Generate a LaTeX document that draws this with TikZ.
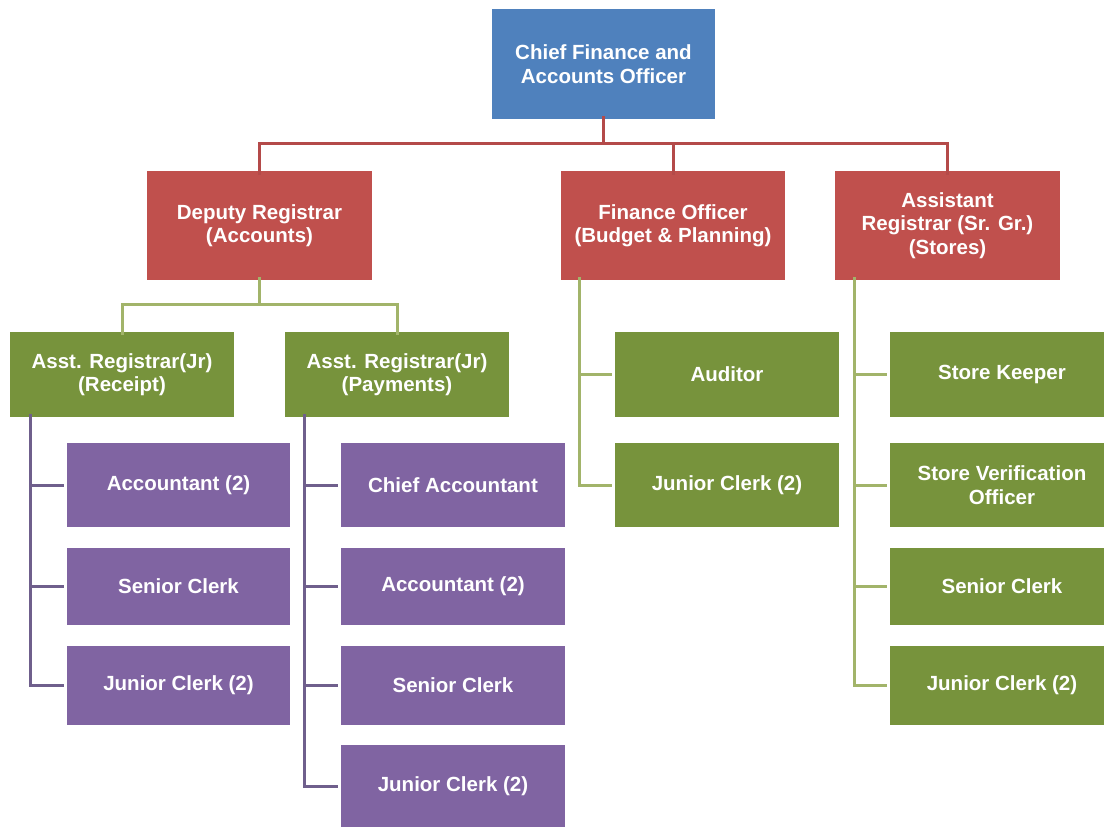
\documentclass[tikz,border=0pt]{standalone}
\usepackage{fontspec}
\setmainfont{Liberation Sans}
\definecolor{cblue}{HTML}{4F81BD}
\definecolor{cred}{HTML}{C0504D}
\definecolor{cgreen}{HTML}{77933C}
\definecolor{cpurple}{HTML}{8064A2}
\definecolor{lred}{HTML}{B44A49}
\definecolor{lgreen}{HTML}{A2B46A}
\definecolor{lpurple}{HTML}{6F5F8C}
\begin{document}
\begin{tikzpicture}[x=1pt,y=-1pt,
  box/.style={rectangle, inner sep=2pt, text=white, align=center,
    font=\fontsize{20.5}{23.5}\selectfont\bfseries},
  wbox/.style={box, minimum width=224pt},
  redline/.style={draw=lred, line width=3pt},
  greenline/.style={draw=lgreen, line width=3pt},
  purpleline/.style={draw=lpurple, line width=3pt}]
\useasboundingbox (0,0) rectangle (1104,829);
\fill[white] (0,0) rectangle (1104,829);
% top
\node[box, fill=cblue, minimum width=223pt, minimum height=110pt] (top) at (603.5,64) {Chief Finance and\\Accounts Officer};
% red row
\node[box, fill=cred, minimum width=225pt, minimum height=109pt] (dr) at (259.5,225.5) {Deputy Registrar\\(Accounts)};
\node[box, fill=cred, minimum width=224pt, minimum height=109pt] (fo) at (673,225.5) {Finance Officer\\(Budget \& Planning)};
\node[box, fill=cred, minimum width=225pt, minimum height=109pt] (ar) at (947.5,225.5) {Assistant\\Registrar (Sr. Gr.)\\(Stores)};
% green row
\node[wbox, fill=cgreen, minimum height=85pt] (rec) at (122,374.5) {Asst. Registrar(Jr)\\(Receipt)};
\node[wbox, fill=cgreen, minimum height=85pt] (pay) at (397,374.5) {Asst. Registrar(Jr)\\(Payments)};
\node[wbox, fill=cgreen, minimum height=85pt] (aud) at (727,374.5) {Auditor};
\node[wbox, fill=cgreen, minimum height=84pt] (fjc) at (727,485) {Junior Clerk (2)};
\node[wbox, fill=cgreen, minimum height=85pt] (sk) at (1002,374.5) {Store Keeper};
\node[wbox, fill=cgreen, minimum height=84pt] (svo) at (1002,485) {Store Verification\\Officer};
\node[wbox, fill=cgreen, minimum height=77pt] (ssc) at (1002,586.5) {Senior Clerk};
\node[wbox, fill=cgreen, minimum height=79pt] (sjc) at (1002,685.5) {Junior Clerk (2)};
% purple under receipt
\node[wbox, fill=cpurple, minimum width=223pt, minimum height=84pt] (racc) at (178.5,485) {Accountant (2)};
\node[wbox, fill=cpurple, minimum width=223pt, minimum height=77pt] (rsc) at (178.5,586.5) {Senior Clerk};
\node[wbox, fill=cpurple, minimum width=223pt, minimum height=79pt] (rjc) at (178.5,685.5) {Junior Clerk (2)};
% purple under payments
\node[wbox, fill=cpurple, minimum width=224pt, minimum height=84pt] (pca) at (453,485) {Chief Accountant};
\node[wbox, fill=cpurple, minimum width=224pt, minimum height=77pt] (pacc) at (453,586.5) {Accountant (2)};
\node[wbox, fill=cpurple, minimum width=224pt, minimum height=79pt] (psc) at (453,685.5) {Senior Clerk};
\node[wbox, fill=cpurple, minimum width=224pt, minimum height=82pt] (pjc) at (453,786) {Junior Clerk (2)};
% red connectors
\coordinate (rbus) at (0,144);
\draw[redline] ([yshift=3pt]top.south) -- (top.south |- rbus);
\draw[redline] ([yshift=-4pt]dr.north) -- (dr.north |- rbus) -| ([yshift=-4pt]ar.north);
\draw[redline] ([yshift=-4pt]fo.north) -- (fo.north |- rbus);
% green connectors
\coordinate (gbus) at (0,305);
\draw[greenline] ([yshift=3pt]dr.south) -- (dr.south |- gbus);
\draw[greenline] ([yshift=-3pt]rec.north) -- (rec.north |- gbus) -| ([yshift=-3pt]pay.north);
\coordinate (fv) at ([xshift=19pt,yshift=3pt]fo.south west);
\draw[greenline] (fv) |- ([xshift=-3pt]fjc.west);
\draw[greenline] (fv |- aud.west) -- ([xshift=-3pt]aud.west);
\coordinate (av) at ([xshift=20pt,yshift=3pt]ar.south west);
\draw[greenline] (av) |- ([xshift=-3pt]sjc.west);
\foreach \n in {sk,svo,ssc} \draw[greenline] (av |- \n.west) -- ([xshift=-3pt]\n.west);
% purple connectors
\coordinate (rv) at ([xshift=21pt,yshift=3pt]rec.south west);
\draw[purpleline] (rv) |- ([xshift=-3pt]rjc.west);
\foreach \n in {racc,rsc} \draw[purpleline] (rv |- \n.west) -- ([xshift=-3pt]\n.west);
\coordinate (pv) at ([xshift=20pt,yshift=3pt]pay.south west);
\draw[purpleline] (pv) |- ([xshift=-3pt]pjc.west);
\foreach \n in {pca,pacc,psc} \draw[purpleline] (pv |- \n.west) -- ([xshift=-3pt]\n.west);
\end{tikzpicture}
\end{document}
